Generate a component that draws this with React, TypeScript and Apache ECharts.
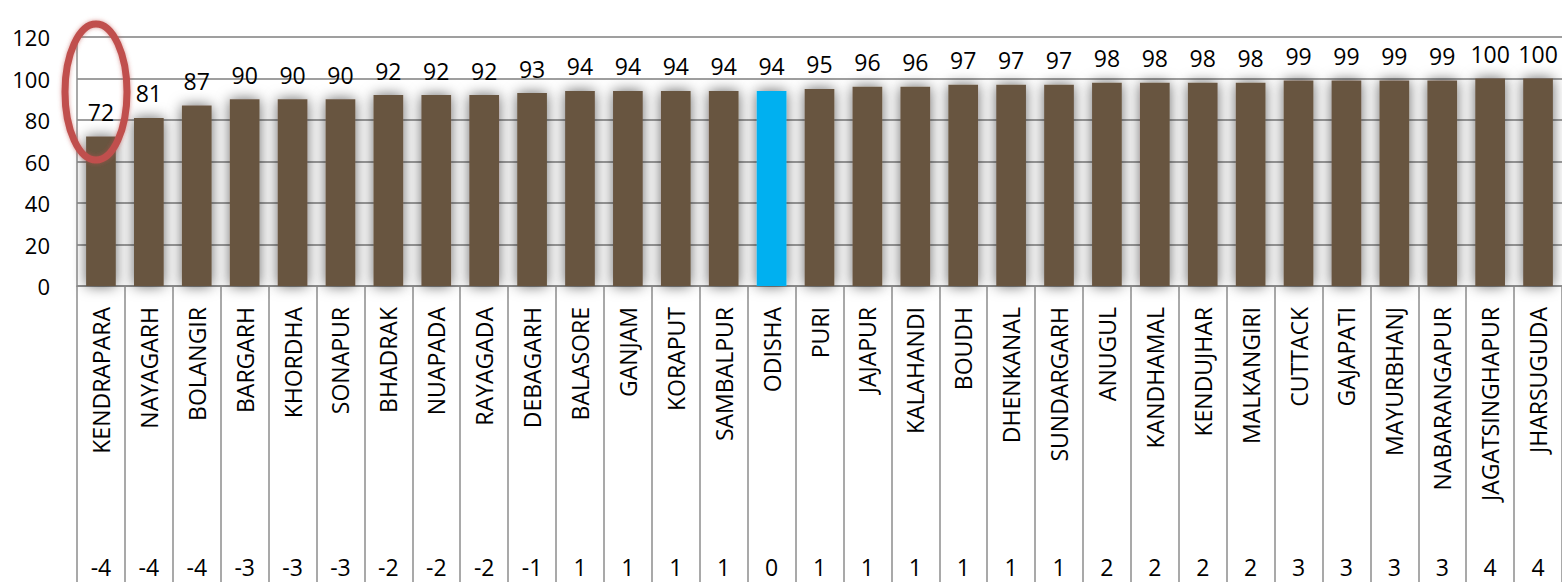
import React, { useEffect, useRef } from "react";
import * as echarts from "echarts";

const categories = [
  "KENDRAPARA", "NAYAGARH", "BOLANGIR", "BARGARH", "KHORDHA", "SONAPUR", "BHADRAK",
  "NUAPADA", "RAYAGADA", "DEBAGARH", "BALASORE", "GANJAM", "KORAPUT", "SAMBALPUR",
  "ODISHA", "PURI", "JAJAPUR", "KALAHANDI", "BOUDH", "DHENKANAL", "SUNDARGARH",
  "ANUGUL", "KANDHAMAL", "KENDUJHAR", "MALKANGIRI", "CUTTACK", "GAJAPATI",
  "MAYURBHANJ", "NABARANGAPUR", "JAGATSINGHAPUR", "JHARSUGUDA",
];
const values = [
  72, 81, 87, 90, 90, 90, 92, 92, 92, 93, 94, 94, 94, 94, 94, 95, 96, 96, 97, 97, 97,
  98, 98, 98, 98, 99, 99, 99, 99, 100, 100,
];
const changes = [
  "-4", "-4", "-4", "-3", "-3", "-3", "-2", "-2", "-2", "-1", "1", "1", "1", "1", "0",
  "1", "1", "1", "1", "1", "1", "2", "2", "2", "2", "3", "3", "3", "3", "4", "4",
];
const highlight = "ODISHA";

const FONT = "'Open Sans', sans-serif";

export default function App() {
  const ref = useRef<HTMLDivElement>(null);
  useEffect(() => {
    if (!ref.current) return;
    const chart = echarts.init(ref.current, null, { renderer: "svg" });
    const barColor = "#685541";
    chart.setOption({
      animation: false,
      backgroundColor: "#ffffff",
      grid: { left: 77, right: 0, top: 37, bottom: 296, containLabel: false },
      xAxis: [
        {
          type: "category",
          data: categories,
          position: "bottom",
          axisLine: { show: true, lineStyle: { color: "#8c8c8c", width: 1.5 } },
          axisTick: {
            show: true,
            alignWithLabel: false,
            length: 300,
            lineStyle: { color: "#8c8c8c", width: 1.5 },
          },
          axisLabel: {
            rotate: 90,
            interval: 0,
            margin: 21,
            color: "#000",
            fontFamily: FONT,
            fontSize: 23,
          },
        },
        {
          type: "category",
          data: changes,
          position: "bottom",
          offset: 269,
          axisLine: { show: false },
          axisTick: { show: false },
          axisLabel: {
            interval: 0,
            margin: 0,
            color: "#000",
            fontFamily: FONT,
            fontSize: 23,
          },
        },
      ],
      yAxis: {
        type: "value",
        min: 0,
        max: 120,
        interval: 20,
        axisLine: { show: true, lineStyle: { color: "#8c8c8c", width: 1.5 } },
        axisTick: { show: false },
        splitLine: { show: true, lineStyle: { color: "#7f7f7f", width: 1.5 } },
        axisLabel: {
          margin: 27,
          color: "#000",
          fontFamily: FONT,
          fontSize: 22,
        },
      },
      series: [
        {
          type: "bar",
          xAxisIndex: 0,
          barWidth: "62%",
          data: values.map((v, i) => ({
            value: v,
            itemStyle: {
              color: categories[i] === highlight ? "#00b0f0" : barColor,
            },
          })),
          itemStyle: {
            shadowBlur: 14,
            shadowColor: "rgba(0,0,0,0.6)",
            shadowOffsetX: 0,
            shadowOffsetY: 0,
          },
          label: {
            show: true,
            position: "top",
            distance: 13,
            color: "#000",
            fontFamily: FONT,
            fontSize: 23,
          },
        },
      ],
      graphic: [
        {
          type: "ellipse",
          shape: { cx: 96, cy: 92, rx: 31, ry: 68 },
          style: {
            fill: "none",
            stroke: "#c0504d",
            lineWidth: 7,
            shadowBlur: 4,
            shadowColor: "rgba(192,80,77,0.6)",
          },
          z: 100,
        },
      ],
    });
    return () => chart.dispose();
  }, []);
  return (
    <div
      ref={ref}
      style={{ position: "absolute", left: 0, top: 0, width: 1562, height: 582 }}
    />
  );
}
